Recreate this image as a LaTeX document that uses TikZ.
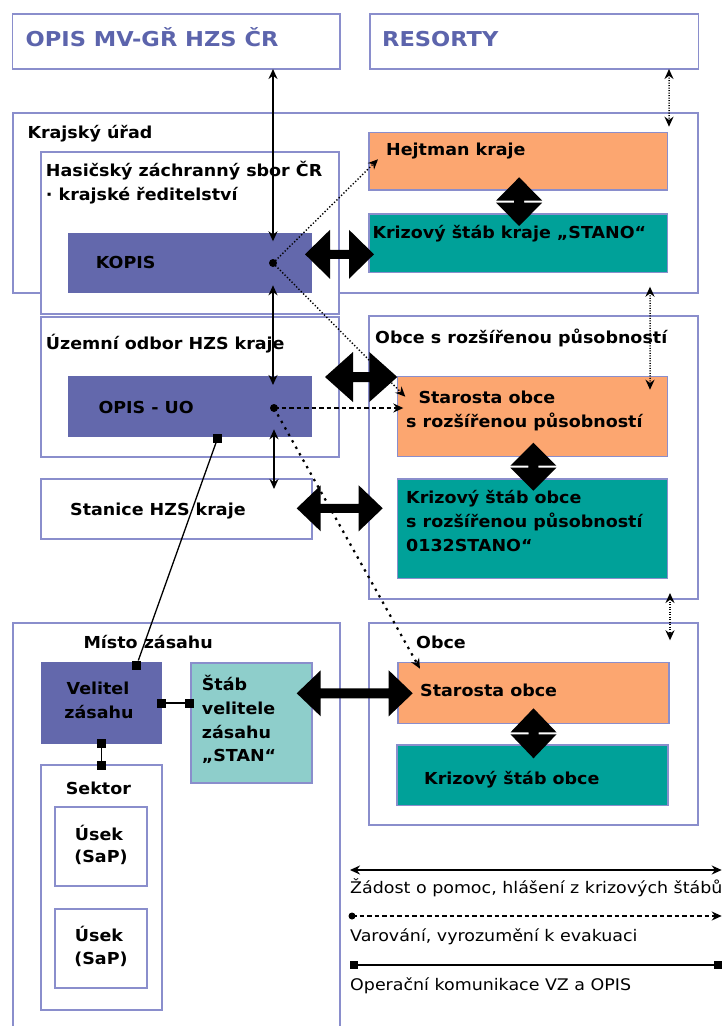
\documentclass[tikz,border=0pt]{standalone}
\usepackage{fontspec}
\setmainfont{DejaVu Sans}
\newfontfamily\lblfont[FakeStretch=1.06]{DejaVu Sans}
\newfontfamily\ttlfont[FakeStretch=1.1]{DejaVu Sans}
\newfontfamily\lgdfont[FakeStretch=1.09]{DejaVu Sans}
\usetikzlibrary{arrows.meta,calc}
\definecolor{framec}{RGB}{138,142,204}
\definecolor{titlec}{RGB}{92,100,172}
\definecolor{bluec}{RGB}{99,104,172}
\definecolor{orangec}{RGB}{252,166,112}
\definecolor{tealc}{RGB}{0,161,153}
\definecolor{ltealc}{RGB}{142,206,203}
\newcommand\fatarr[5]{%
  \path ($(#1)!#3!(#2)$) coordinate (fa1) ($(#2)!#3!(#1)$) coordinate (fa2);
  \fill (#1) -- ($(fa1)!#4!90:(#2)$) -- ($(fa1)!#5!90:(#2)$) -- ($(fa2)!#5!-90:(#1)$)
    -- ($(fa2)!#4!-90:(#1)$) -- (#2) -- ($(fa2)!#4!90:(#1)$) -- ($(fa2)!#5!90:(#1)$)
    -- ($(fa1)!#5!-90:(#2)$) -- ($(fa1)!#4!-90:(#2)$) -- cycle;}
\begin{document}
\begin{tikzpicture}[x=1pt,y=-1pt,
  >={Stealth[length=10pt,width=9pt]},
  frame/.style={draw=framec, line width=1.8pt, fill=white, anchor=north west, inner sep=0pt, outer sep=0pt},
  bluebox/.style={fill=bluec, draw=none, anchor=north west, inner sep=0pt, outer sep=0pt},
  orangebox/.style={fill=orangec, draw=framec, line width=1.4pt, anchor=north west, inner sep=0pt, outer sep=0pt},
  tealbox/.style={fill=tealc, draw=framec, line width=1.4pt, anchor=north west, inner sep=0pt, outer sep=0pt},
  ltealbox/.style={fill=ltealc, draw=framec, line width=1.8pt, anchor=north west, inner sep=0pt, outer sep=0pt},
  lbl/.style={anchor=base west, inner sep=0pt, font=\lblfont\bfseries\fontsize{16.5}{20}\selectfont},
  lblc/.style={lbl, anchor=base},
  ttl/.style={anchor=base west, inner sep=0pt, text=titlec, font=\ttlfont\bfseries\fontsize{20.5}{24}\selectfont},
  lgd/.style={anchor=base west, inner sep=0pt, font=\lgdfont\fontsize{16}{19}\selectfont},
  thinarr/.style={line width=1.5pt},
  dotf/.style={line width=1.4pt, dash pattern=on 1.3pt off 2pt},
  dotv/.style={line width=1.5pt, dash pattern=on 1pt off 1.5pt},
  dotc/.style={line width=2.2pt, dash pattern=on 2.4pt off 5pt},
  dsh/.style={line width=1.5pt, dash pattern=on 4.5pt off 3pt},
  sq/.style={rectangle, fill=black, minimum size=9pt, inner sep=0pt, outer sep=0pt},
  sqline/.style={line width=1.3pt}
]
\useasboundingbox (0,0) rectangle (725,1026);
\fill[white] (0,0) rectangle (725,1026);

% boxes
\node[frame, minimum width=327.5, minimum height=55] (opis) at (12.5,14) {};
\node[frame, minimum width=328.5, minimum height=55] (resorty) at (370,14) {};
\node[frame, minimum width=685.3, minimum height=180] (kraj) at (12.7,112.7) {};
\node[frame, minimum width=298.6, minimum height=161.7] (hzs) at (40.7,152.3) {};
\node[bluebox, minimum width=244, minimum height=60] (kopis) at (68.3,233.3) {};
\node[frame, minimum width=298.6, minimum height=140] (uo) at (40.7,316.7) {};
\node[bluebox, minimum width=244, minimum height=61.3] (opisuo) at (68.3,376) {};
\node[frame, minimum width=271, minimum height=60] (stanice) at (40.7,479) {};
\node[orangebox, minimum width=298.3, minimum height=57.7] (hejtman) at (369,132.3) {};
\node[tealbox, minimum width=298.3, minimum height=58.7] (ksk) at (369,214) {};
\node[frame, minimum width=329.3, minimum height=283] (orp) at (369,316) {};
\node[orangebox, minimum width=270, minimum height=80] (starorp) at (397.3,376.7) {};
\node[tealbox, minimum width=270, minimum height=99.3] (ksorp) at (397.3,479) {};
\node[frame, minimum width=329.3, minimum height=201.7] (obce) at (369,623.3) {};
\node[orangebox, minimum width=271, minimum height=60.6] (starobce) at (398,662.7) {};
\node[tealbox, minimum width=271, minimum height=60.7] (ksobce) at (397,745) {};
\node[frame, minimum width=327.3, minimum height=420] (misto) at (12.7,623.3) {};
\node[bluebox, minimum width=121.6, minimum height=81.7] (velitel) at (40.7,662.3) {};
\node[ltealbox, minimum width=120.7, minimum height=120.6] (stab) at (191,662.7) {};
\node[frame, minimum width=121, minimum height=245] (sektor) at (40.7,765) {};
\node[frame, minimum width=92.3, minimum height=78.7] (usek1) at (55,807.3) {};
\node[frame, minimum width=92.3, minimum height=79] (usek2) at (55,909.3) {};

% texts
\node[ttl] (topis) at (25.5,46.7) {OPIS MV-GŘ HZS ČR};
\node[ttl] (tres) at (382,46.7) {RESORTY};
\node[lbl] (tkraj) at (27.3,138) {Krajský úřad};
\node[lbl] (thzs1) at (45.7,176) {Hasičský záchranný sbor ČR};
\node[lbl] (thzs2) at (45.7,200) {· krajské ředitelství};
\node[lbl] (tkopis) at (95.7,268.3) {KOPIS};
\node[lbl] (tuo) at (45.7,349.3) {Územní odbor HZS kraje};
\node[lbl] (topisuo) at (98.3,413.3) {OPIS - UO};
\node[lbl] (tstan) at (70,515) {Stanice HZS kraje};
\node[lbl] (thejt) at (386,155) {Hejtman kraje};
\node[lbl] (tksk) at (372.3,238.3) {Krizový štáb kraje „STANO“};
\node[lbl] (torp) at (375,343.3) {Obce s rozšířenou působností};
\node[lbl] (tso1) at (418.3,403.3) {Starosta obce};
\node[lbl] (tso2) at (406,427.7) {s rozšířenou působností};
\node[lbl] (tks1) at (406,503.3) {Krizový štáb obce};
\node[lbl] (tks2) at (406,527.7) {s rozšířenou působností};
\node[lbl] (tks3) at (406,551.7) {0132STANO“};
\node[lbl] (tmisto) at (83.3,648.3) {Místo zásahu};
\node[lblc] (tvel1) at (98,694) {Velitel};
\node[lblc] (tvel2) at (99,718.3) {zásahu};
\node[lbl] (tst1) at (201.7,690) {Štáb};
\node[lbl] (tst2) at (201.7,714) {velitele};
\node[lbl] (tst3) at (201.7,738.3) {zásahu};
\node[lbl] (tst4) at (201.7,761.7) {„STAN“};
\node[lbl] (tsek) at (65.7,794.3) {Sektor};
\node[lblc] (tus1) at (99,840) {Úsek};
\node[lblc] (tus2) at (101,862.5) {(SaP)};
\node[lblc] (tus3) at (99,941.7) {Úsek};
\node[lblc] (tus4) at (101,964.5) {(SaP)};
\node[lbl] (tobce) at (416,648.3) {Obce};
\node[lbl] (tsob) at (420,696.7) {Starosta obce};
\node[lbl] (tksob) at (424,784) {Krizový štáb obce};

% dots
\coordinate (dk) at ($(kopis.north west)+(204.7,29.7)$);
\coordinate (du) at ($(opisuo.north west)+(205.7,32)$);
\fill (dk) circle (4);
\fill (du) circle (4);

% thin solid double arrows
\draw[thinarr,<->] (dk |- opis.south) -- ($(dk |- kopis.north)+(0,8)$);
\draw[thinarr,<->] ($(dk |- kopis.south)+(0,-8)$) -- ($(dk |- opisuo.north)+(0,9)$);
\draw[thinarr,<->] ($(du |- opisuo.south)+(0,-8)$) -- ($(du |- stanice.north)+(0,10)$);

% dotted / dashed warnings
\draw[dotf,->] (dk) -- ($(hejtman.north west)+(9,27)$);
\draw[dotf,->] (dk) -- ($(starorp.north west)+(8,20)$);
\draw[dsh,->] (du) -- ($(du -| starorp.west)+(6,0)$);
\draw[dotc,->] (du) -- ($(starobce.north west)+(22,6)$);

% dotted vertical double arrows
\draw[dotv,<->] ($(resorty.south east)+(-29.5,0)$) -- ($(kraj.north east)+(-29,14)$);
\draw[dotv,<->] ($(kraj.south east)+(-48,-6)$) -- ($(starorp.north east)+(-17.3,13)$);
\draw[dotv,<->] ($(orp.south east)+(-28.3,-6)$) -- ($(obce.north east)+(-28.3,17)$);

% fat arrows
\coordinate (fA1) at ($(kopis.north east)+(-7.3,21)$);
\coordinate (fA2) at ($(ksk.north west)+(5,40.3)$);
\fatarr{fA1}{fA2}{25pt}{24.5pt}{4.5pt}
\coordinate (fB1) at ($(uo.north east)+(-14.3,60.3)$);
\coordinate (fB2) at ($(starorp.north west)+(0,0.3)$);
\fatarr{fB1}{fB2}{28pt}{25pt}{5pt}
\coordinate (fC1) at ($(stanice.east)+(-15,-0.7)$);
\coordinate (fC2) at ($(ksorp.north west)+(-14.6,29.3)$);
\fatarr{fC1}{fC2}{24pt}{23pt}{4.5pt}
\coordinate (fD1) at ($(stab.north east)+(-15,30.6)$);
\coordinate (fD2) at ($(starobce.north west)+(14.7,30.6)$);
\fatarr{fD1}{fD2}{24pt}{23pt}{5pt}

% diamonds (back-to-back heads)
\coordinate (fE1) at ($(hejtman.south)+(1,-12.7)$);
\coordinate (fE2) at ($(ksk.north)+(1,12)$);
\fatarr{fE1}{fE2}{23.3pt}{23pt}{5pt}
\coordinate (fF1) at ($(starorp.south)+(1,-14)$);
\coordinate (fF2) at ($(ksorp.north)+(1,11.7)$);
\fatarr{fF1}{fF2}{23pt}{23pt}{5pt}
\coordinate (fG1) at ($(starobce.south)+(0,-15)$);
\coordinate (fG2) at ($(ksobce.north)+(1,13.3)$);
\fatarr{fG1}{fG2}{24pt}{23pt}{5pt}

% operational communication (squares)
\node[sq] (s1) at (217.5,438.5) {};
\node[sq] (s2) at (136.7,665) {};
\node[sq] (s3) at (161.2,703) {};
\node[sq] (s4) at (189.2,703) {};
\node[sq] (s5) at (101.3,743.5) {};
\node[sq] (s6) at (101.3,765) {};
\draw[sqline] (s1) -- (s2);
\draw[sqline] (s3) -- (s4);
\draw[sqline] (s5) -- (s6);

% legend
\coordinate (la1) at (350,870);
\coordinate (la2) at (721.7,870);
\draw[thinarr,<->] (la1) -- (la2);
\node[lgd] (lt1) at (350,893.3) {Žádost o pomoc, hlášení z krizových štábů};
\coordinate (lb1) at (352,916);
\coordinate (lb2) at (721.7,916);
\fill (lb1) circle (3.5);
\draw[dsh,->] (lb1) -- (lb2);
\node[lgd] (lt2) at (350,941.7) {Varování, vyrozumění k evakuaci};
\node[sq, minimum size=8pt] (lc1) at (354,965) {};
\node[sq, minimum size=8pt] (lc2) at (718,965) {};
\draw[sqline] (lc1) -- (lc2);
\node[lgd] (lt3) at (350,990) {Operační komunikace VZ a OPIS};
\end{tikzpicture}
\end{document}
